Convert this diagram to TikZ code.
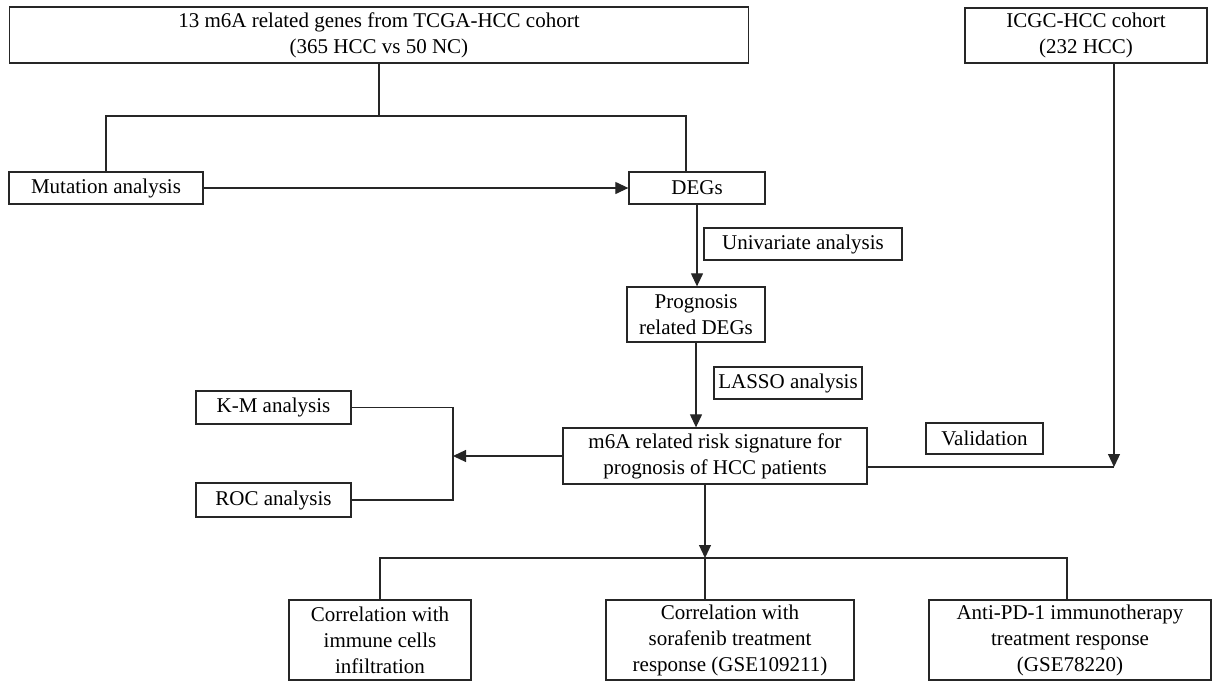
\documentclass[tikz,border=0pt]{standalone}
\usepackage{fontspec}
\setmainfont{Liberation Serif}
\usetikzlibrary{arrows.meta}

\tikzset{
  box/.style={draw=black!85, line width=1.3pt, inner sep=0pt, align=center,
    font=\fontsize{21}{26}\selectfont},
  link/.style={draw=black!85, line width=1.2pt},
  arrowlink/.style={link, -{Triangle[length=13pt,width=12pt]}}
}

\begin{document}
\begin{tikzpicture}[x=1pt,y=-1pt]
\useasboundingbox (0,0) rectangle (1214,682);
% cohorts
\node[box, minimum width=739pt, minimum height=56pt] (tcga) at (379,35) {13 m6A related genes from TCGA-HCC cohort\\(365 HCC vs 50 NC)};
\node[box, minimum width=242pt, minimum height=55pt] (icgc) at (1086,35.5) {ICGC-HCC cohort\\(232 HCC)};
% first steps
\node[box, minimum width=194pt, minimum height=32pt] (mutation) at (106,188) {Mutation analysis};
\node[box, minimum width=136pt, minimum height=32pt] (degs) at (697,188) {DEGs};
\node[box, minimum width=198pt, minimum height=32pt] (univar) at (803,244) {Univariate analysis};
\node[box, minimum width=138pt, minimum height=55pt] (progdegs) at (696,314.5) {Prognosis\\related DEGs};
\node[box, minimum width=148pt, minimum height=32pt] (lasso) at (788,383) {LASSO analysis};
\node[box, minimum width=304pt, minimum height=56pt] (risk) at (715,456) {m6A related risk signature for\\prognosis of HCC patients};
% evaluation
\node[box, minimum width=155pt, minimum height=33pt] (km) at (273.5,407.5) {K-M analysis};
\node[box, minimum width=155pt, minimum height=34pt] (roc) at (273.5,500) {ROC analysis};
\node[box, minimum width=117pt, minimum height=31pt] (valid) at (984.5,438.5) {Validation};
% applications
\node[box, minimum width=182pt, minimum height=80pt] (immune) at (380,640) {Correlation with\\immune cells\\infiltration};
\node[box, minimum width=248pt, minimum height=80pt] (sorafenib) at (730,640) {Correlation with\\sorafenib treatment\\response (GSE109211)};
\node[box, minimum width=282pt, minimum height=80pt] (antipd) at (1070,640) {Anti-PD-1 immunotherapy\\treatment response\\(GSE78220)};

\coordinate (split1) at (686,116);
\coordinate (evaljoin) at (453,456);
\coordinate (valjoin) at (1114,467);
\coordinate (split2) at (705,558);
\coordinate (split2r) at (1067,558);

% connectors
\draw[link] (tcga.south) -- (tcga.south |- split1);
\draw[link] (mutation.north) |- (split1) -- (split1 |- degs.north);
\draw[arrowlink] (mutation.east) -- (degs.west);
\draw[arrowlink] (degs.south) -- (degs.south |- progdegs.north);
\draw[arrowlink] (progdegs.south) -- (progdegs.south |- risk.north);
\draw[link] (km.east) -| (evaljoin) |- (roc.east);
\draw[arrowlink] (risk.west) -- (evaljoin);
\draw[arrowlink] (valjoin |- icgc.south) -- (valjoin);
\draw[link] (risk.east |- valjoin) -- (valjoin);
\draw[arrowlink] (split2 |- risk.south) -- (split2);
\draw[link] (immune.north) |- (split2r) -- (split2r |- antipd.north);
\draw[link] (split2) -- (split2 |- sorafenib.north);
\end{tikzpicture}
\end{document}
